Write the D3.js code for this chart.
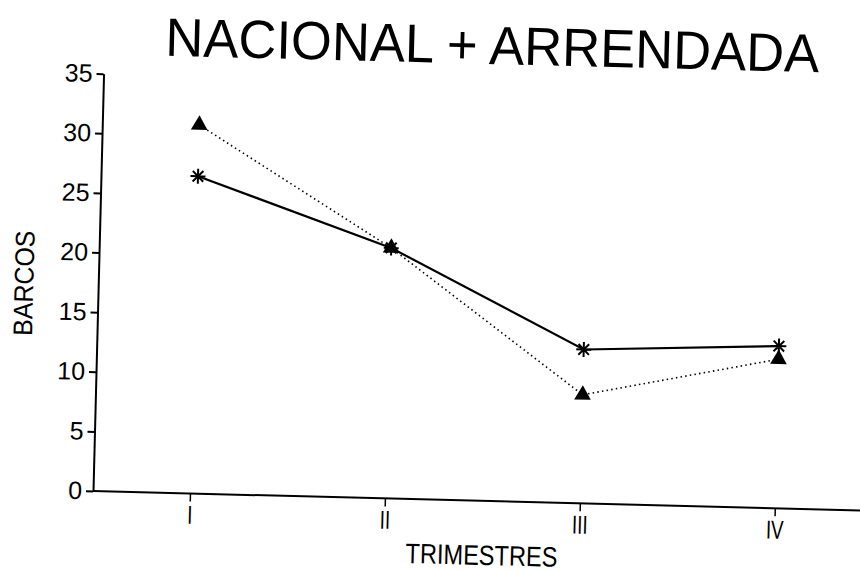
<!DOCTYPE html>
<html>
<head>
<meta charset="utf-8">
<script src="https://cdn.jsdelivr.net/npm/d3@7"></script>
<style>
  html, body { margin: 0; padding: 0; background: #fff; }
  svg { display: block; }
  text { font-family: "Liberation Sans", Arial, Helvetica, sans-serif; fill: #000; }
</style>
</head>
<body>
<svg id="chart" width="860" height="572"></svg>
<script>
const title = "NACIONAL + ARRENDADA";
const xTitle = "TRIMESTRES";
const yTitle = "BARCOS";
const categories = ["I", "II", "III", "IV"];
const serieAsterisco = [26.6, 21.0, 12.9, 13.6];   // solid line, asterisk markers
const serieTriangulo = [30.9, 21.0, 9.1, 12.5];    // dotted line, triangle markers
const yTicks = [0, 5, 10, 15, 20, 25, 30, 35];

const svg = d3.select("#chart");
const origin = { x: 93, y: 491 };
const tilt = 1.45; // scanned page is slightly rotated

const root = svg.append("g")
  .attr("transform", `translate(${origin.x},${origin.y}) rotate(${tilt})`);

const y = d3.scaleLinear().domain([0, 35]).range([0, -417.5]);
const x = d3.scalePoint().domain(categories).range([97, 682]);

// Title
root.append("text")
  .attr("x", 61).attr("y", -437)
  .attr("font-size", 54)
  .attr("textLength", 654)
  .attr("lengthAdjust", "spacingAndGlyphs")
  .text(title);

// Y axis
const yAxis = root.append("g")
  .call(d3.axisLeft(y).tickValues(yTicks).tickSize(7).tickSizeOuter(0).tickPadding(4));
yAxis.select(".domain").attr("stroke", "#000").attr("stroke-width", 2);
yAxis.selectAll(".tick line").attr("stroke", "#000").attr("stroke-width", 2);
yAxis.selectAll(".tick text")
  .attr("font-size", 25)
  .attr("font-family", "'Liberation Sans', Arial, sans-serif")
  .attr("fill", "#000");

// X axis line (extends beyond category range)
root.append("line")
  .attr("x1", 0).attr("x2", 772)
  .attr("y1", y(0)).attr("y2", y(0))
  .attr("stroke", "#000").attr("stroke-width", 2);

const xAxis = root.append("g")
  .call(d3.axisBottom(x).tickSize(8).tickSizeOuter(0).tickPadding(4));
xAxis.select(".domain").remove();
xAxis.selectAll(".tick line").attr("stroke", "#000").attr("stroke-width", 1.5);
xAxis.selectAll(".tick text")
  .attr("font-size", 26)
  .attr("font-family", "'Liberation Sans Narrow', 'Liberation Sans', Arial, sans-serif")
  .attr("transform", "scale(0.72,1)")
  .attr("fill", "#000");

// Axis titles
root.append("text")
  .attr("transform", `translate(-65,-206) rotate(-90)`)
  .attr("text-anchor", "middle")
  .attr("font-size", 27)
  .attr("textLength", 105)
  .attr("lengthAdjust", "spacingAndGlyphs")
  .text(yTitle);

root.append("text")
  .attr("x", 390).attr("y", 64)
  .attr("text-anchor", "middle")
  .attr("font-size", 28)
  .attr("textLength", 152)
  .attr("lengthAdjust", "spacingAndGlyphs")
  .text(xTitle);

// Lines
const line = d3.line().x((d, i) => x(categories[i])).y(d => y(d));

root.append("path")
  .datum(serieTriangulo)
  .attr("d", line)
  .attr("fill", "none")
  .attr("stroke", "#000")
  .attr("stroke-width", 1.6)
  .attr("stroke-dasharray", "1.5,3.2");

root.append("path")
  .datum(serieAsterisco)
  .attr("d", line)
  .attr("fill", "none")
  .attr("stroke", "#000")
  .attr("stroke-width", 2.2);

// Triangle markers
root.selectAll(".tri")
  .data(serieTriangulo)
  .enter().append("path")
  .attr("class", "tri")
  .attr("transform", (d, i) => `translate(${x(categories[i])},${y(d)})`)
  .attr("d", d3.symbol().type(d3.symbolTriangle).size(120))
  .attr("fill", "#000");

// Asterisk markers (8 arms)
function asterisk(r) {
  const p = d3.path();
  for (let k = 0; k < 4; k++) {
    const a = k * Math.PI / 4;
    p.moveTo(-r * Math.cos(a), -r * Math.sin(a));
    p.lineTo(r * Math.cos(a), r * Math.sin(a));
  }
  return p.toString();
}
root.selectAll(".ast")
  .data(serieAsterisco)
  .enter().append("path")
  .attr("class", "ast")
  .attr("transform", (d, i) => `translate(${x(categories[i])},${y(d)})`)
  .attr("d", asterisk(7.5))
  .attr("fill", "none")
  .attr("stroke", "#000")
  .attr("stroke-width", 2);
</script>
</body>
</html>
